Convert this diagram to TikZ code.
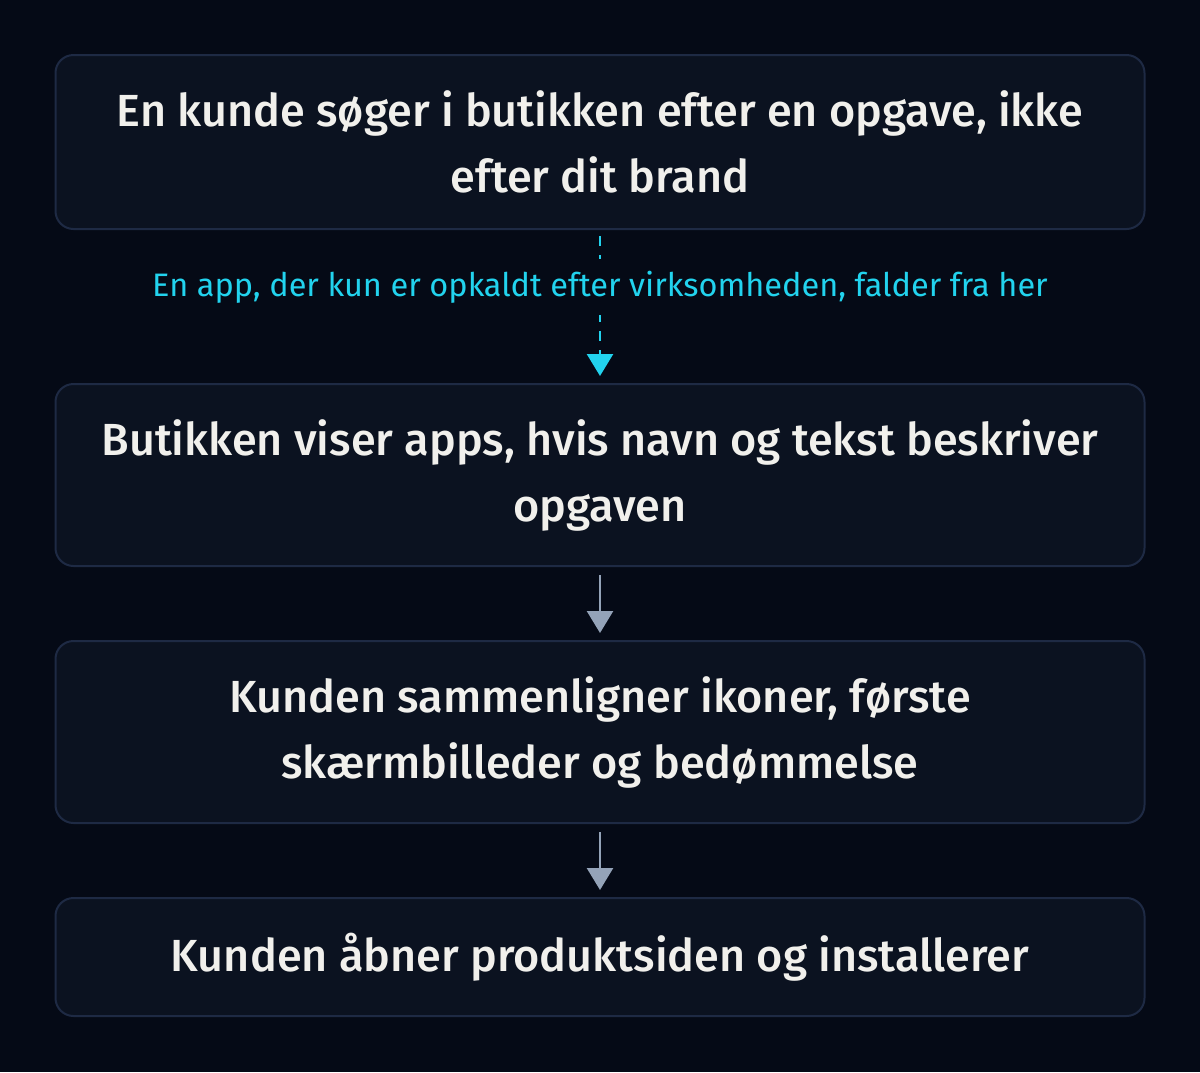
\documentclass[tikz,border=0pt]{standalone}
\usepackage{fontspec}
\setmainfont{Fira Sans}[UprightFont = * Medium]
\newfontfamily\labelfont{Fira Sans}
\usetikzlibrary{arrows.meta}
\definecolor{bg}{HTML}{050A16}
\definecolor{boxfill}{HTML}{0B1220}
\definecolor{boxline}{HTML}{1E2A44}
\definecolor{txt}{HTML}{F1F0EC}
\definecolor{cyanc}{HTML}{22D3EE}
\definecolor{grayc}{HTML}{94A3B8}
\tikzset{
  stepbox/.style={draw=boxline, line width=2pt, fill=boxfill, rounded corners=18pt,
    minimum width=1089pt, text=txt, align=center, font=\fontsize{45}{66}\selectfont, inner sep=0pt},
  flowarrow/.style={draw=grayc, line width=2.5pt, -{Triangle[length=22pt,width=26pt]}},
  dasharrow/.style={draw=cyanc, line width=2.5pt, dash pattern=on 10pt off 9pt, -{Triangle[length=22pt,width=26pt]}},
}
\begin{document}
\begin{tikzpicture}[x=1pt,y=-1pt]
\fill[bg] (0,0) rectangle (1200,1072);
\useasboundingbox (0,0) rectangle (1200,1072);
\node[stepbox, minimum height=174pt] (b1) at (600,142) {En kunde søger i butikken efter en opgave, ikke\\efter dit brand};
\node[stepbox, minimum height=182pt] (b2) at (600,475) {Butikken viser apps, hvis navn og tekst beskriver\\opgaven};
\node[stepbox, minimum height=182pt] (b3) at (600,732) {Kunden sammenligner ikoner, første\\skærmbilleder og bedømmelse};
\node[stepbox, minimum height=118pt] (b4) at (600,957) {Kunden åbner produktsiden og installerer};
\coordinate (d1) at (600,236);
\coordinate (d2) at (600,376);
\draw[dasharrow] (d1) -- (d2);
\node[fill=bg, text=cyanc, font=\labelfont\fontsize{32.5}{38}\selectfont, inner xsep=0pt, inner ysep=12pt] (lbl) at (600,287) {En app, der kun er opkaldt efter virksomheden, falder fra her};
\coordinate (a1) at (600,575);
\coordinate (a2) at (600,633);
\draw[flowarrow] (a1) -- (a2);
\coordinate (c1) at (600,832);
\coordinate (c2) at (600,890);
\draw[flowarrow] (c1) -- (c2);
\end{tikzpicture}
\end{document}
